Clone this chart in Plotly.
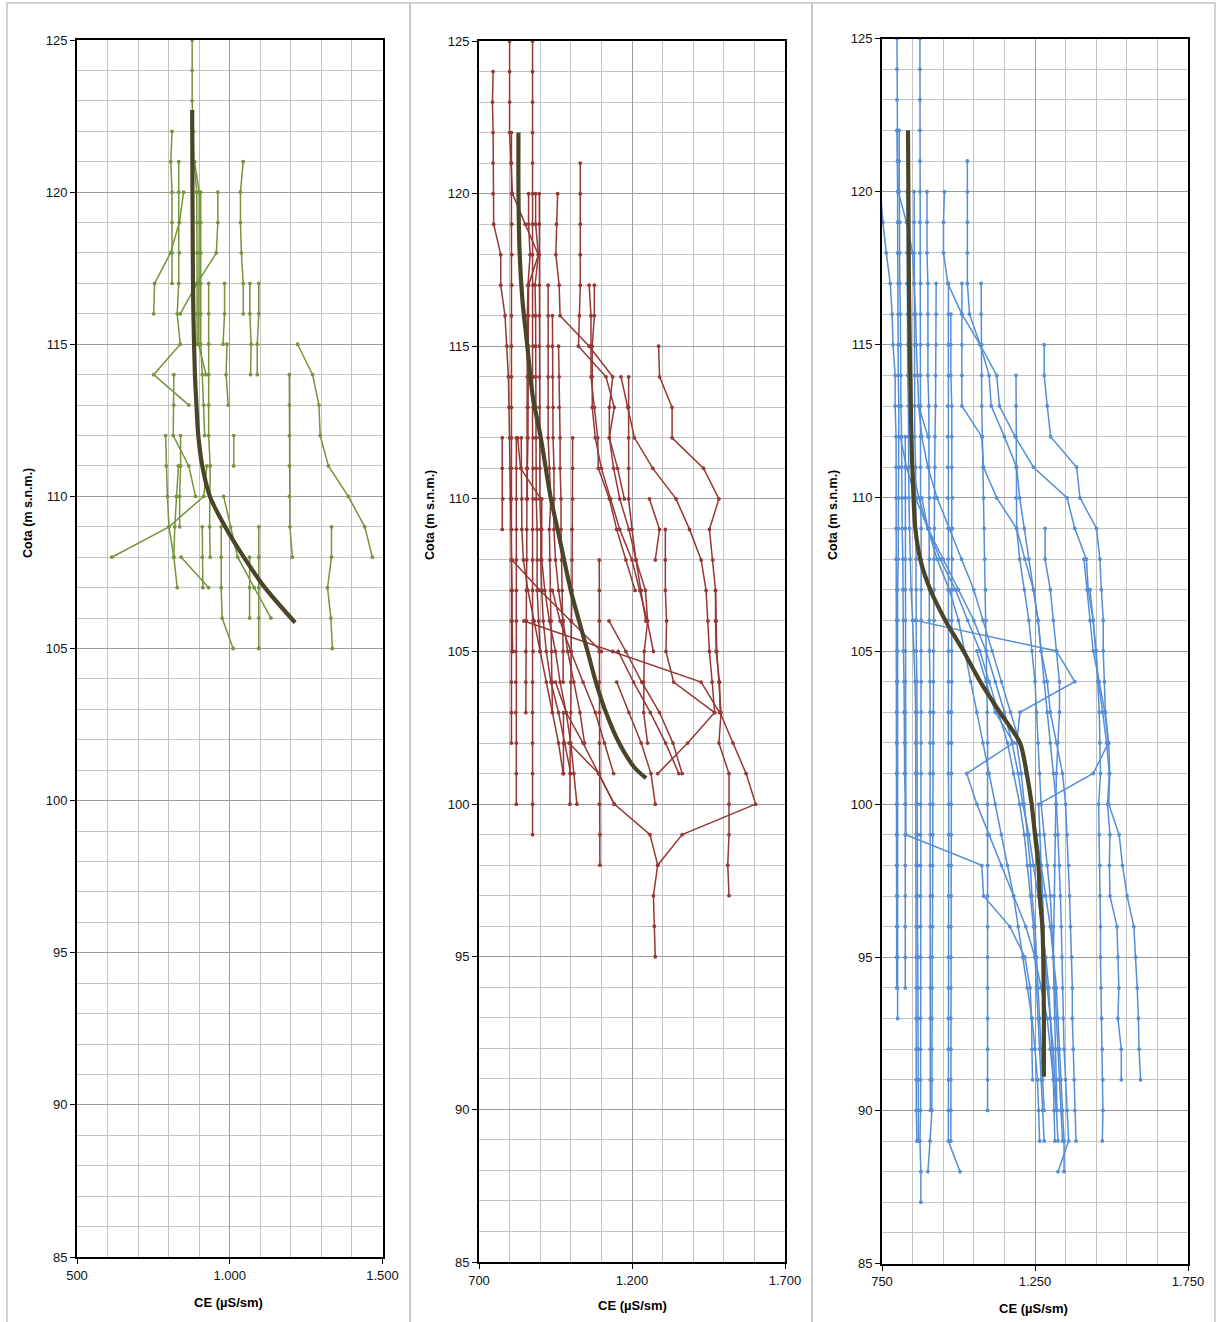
import plotly.graph_objects as go

W, H = 1217, 1322

# ---------------- Panel 1 (green) ----------------
P1_TOPS = [125, 122, 121, 120, 121, 120, 120, 121, 117, 117, 115, 117, 117, 115, 114,
           109, 109, 108, 110, 109, 112, 114, 112, 112, 111, 109, 108, 111]
P1_CE = [
    [877, 877, 877, 880, 883, 892, 893, 893, 893, 893, 893],
    [811, 807, 811, 811, 811, 811],
    [833, 833, 835, 835, 833, 828, 838, 751, 866],
    [849, 835, 806, 754, 751],
    [885, 900, 900, 900, 900, 900, 898, 922],
    [905, 905, 905, 905, 905, 905, 910, 915, 918],
    [961, 961, 956, 893, 838],
    [1044, 1035, 1035, 1038, 1044, 1044],
    [931, 931, 931, 931, 931, 931, 936, 934, 934, 936],
    [983, 983, 978],
    [991, 988, 995],
    [1066, 1066, 1070, 1068],
    [1095, 1095, 1090, 1090],
    [1222, 1271, 1292, 1296, 1323, 1388, 1442, 1467],
    [1195, 1195, 1195, 1195, 1195, 1197, 1205],
    [1333, 1333, 1320, 1331, 1336],
    [1095, 1095, 1095, 1095, 1095],
    [1065, 1065, 1065],
    [980, 1003, 1026, 1080, 1135],
    [972, 972, 972, 975, 1011],
    [1013, 1013],
    [817, 817, 815, 866, 888],
    [790, 792, 796, 801, 817, 828],
    [839, 839, 836, 836],
    [925, 915, 801, 614],
    [910, 910, 912],
    [841, 931],
    [832, 825, 820, 817],
]
P1_MEAN_Z = [122.7, 120, 118, 116, 114, 113, 112, 111, 110, 109, 108, 107, 105.85]
P1_MEAN_CE = [877, 878, 879, 881, 886, 891, 897, 910, 935, 985, 1046, 1115, 1214]

# ---------------- Panel 2 (red) ----------------
P2_TOPS = [124, 125, 125, 122, 120, 120, 120, 120, 121, 117, 117, 115, 114, 107, 114,
           110, 112, 112, 112, 117, 112, 108, 103, 102, 104, 107, 106, 108, 109, 105,
           106, 104, 116, 112, 110, 115]
P2_CE = [
    [746, 744, 746, 746, 746, 748, 771, 771, 785, 791, 796, 798, 800, 802, 804, 806, 806, 808, 808, 810],
    [800, 800, 800, 800, 805, 809, 851, 894, 862, 862, 862, 862, 860, 860, 858, 858],
    [875, 875, 875, 875, 875, 875, 875, 875, 877, 877, 877, 877, 877, 877, 877, 877, 875, 875, 875, 877,
     877, 875, 875, 875, 875, 875, 875],
    [806, 806, 807, 807, 807, 807, 806, 806, 806, 806, 806, 806, 806, 806, 806, 806, 806, 808, 806, 806, 806],
    [862, 862, 867, 860, 858, 858, 858, 858, 858, 856, 856, 856, 856, 855, 855, 853, 853, 853],
    [885, 885, 894, 883, 885, 885, 885, 885, 887, 887, 887, 890, 890, 890, 895, 900],
    [897, 897, 897, 897, 897, 897, 897, 897, 899, 899, 899, 902, 902, 905, 910, 920, 935, 960, 980, 1000],
    [957, 953, 951, 962, 965, 1060, 1137, 1126, 1126, 1153, 1175],
    [1031, 1031, 1031, 1031, 1031, 1028, 1025, 1115, 1142, 1126, 1140, 1160, 1190, 1213, 1230, 1245],
    [1060, 1066, 1066, 1066, 1077, 1088, 1090, 1126, 1150, 1180, 1210],
    [1077, 1077, 1070, 1070, 1070, 1080, 1100, 1130, 1160, 1200, 1226, 1250, 1270],
    [1287, 1290, 1331, 1331, 1434, 1484, 1453, 1464, 1473, 1473, 1475, 1486, 1488, 1530, 1573, 1604,
     1364, 1284, 1270, 1273, 1276],
    [1164, 1186, 1208, 1268, 1344, 1388, 1426, 1442, 1448, 1453, 1462, 1470, 1382, 1284],
    [1473, 1475, 1477, 1484, 1491, 1484, 1517, 1517, 1517, 1513, 1517],
    [1189, 1189, 1189, 1189, 1189, 1200, 1213, 1244, 1251, 1240, 1238, 1238, 1251],
    [1257, 1290, 1276],
    [776, 776, 778, 776],
    [826, 836, 902],
    [1006, 1006, 1006, 1004, 1004, 1004, 1002, 1002, 1000, 1000, 998, 998, 997],
    [926, 926, 926, 926, 926, 926, 930, 935, 930, 932, 934, 936, 938, 940, 940],
    [822, 822, 822, 822, 822, 822, 822, 820, 820, 820, 822, 822, 822],
    [1093, 1093, 1093, 1093, 1093, 1093, 1093, 1093, 1093, 1095, 1095],
    [976, 976, 976],
    [994, 1091, 1142, 1259, 1284],
    [950, 985, 1040, 1091, 1142],
    [940, 965, 1000, 1040, 1080, 1110, 1140],
    [847, 1137, 1426, 1486],
    [808, 900, 1000, 1100],
    [1309, 1309, 1309, 1313, 1311, 1336, 1470],
    [1155, 1205, 1260, 1310, 1353],
    [1125, 1180, 1232, 1290, 1334, 1364],
    [1150, 1190, 1230, 1262, 1276],
    [940, 940, 940, 942, 942, 945, 945, 945, 950, 960, 975, 990, 1010, 1030, 1045],
    [838, 838, 840, 840, 845, 860, 880, 900, 920, 940, 960, 975],
    [905, 905, 905, 915, 930, 950, 965, 985, 1000, 1010, 1020],
    [960, 962, 962, 965, 965, 968, 968, 970, 972, 975, 975, 975],
]
P2_MEAN_Z = [122, 120, 118, 116.5, 115, 113.4, 112, 110, 109, 108, 107, 106, 105, 104, 103, 102, 101.2, 100.85]
P2_MEAN_CE = [829, 829, 833, 842, 858, 875, 902, 935, 957, 978, 1000, 1027, 1055, 1082, 1115, 1158, 1208, 1246]

# ---------------- Panel 3 (blue) ----------------
P3_TOPS = [122, 122, 125, 120, 120, 117, 117, 116, 117, 120, 120,
           120, 115, 121, 114, 109, 106, 112, 108, 105, 117, 112, 111, 113, 110, 107, 125]
P3_CE = [
    [799, 801, 801, 801, 801, 803, 803, 803, 803, 805, 805, 805, 805, 803, 803, 801, 801, 801, 801, 799,
     799, 799, 799, 799, 799, 801, 801, 801, 801, 801],
    [806, 806, 806, 808, 808, 808, 810, 810, 812, 812, 814, 814, 816, 816, 818, 818, 820, 820, 822, 822,
     824, 824, 826, 826, 826, 826, 826, 826, 826],
    [874, 874, 874, 874, 874, 874, 874, 874, 876, 876, 876, 876, 876, 876, 876, 876, 878, 878, 878, 878,
     878, 878, 878, 878, 878, 876, 876, 876, 876, 876, 876, 876, 876, 876, 876, 876, 874, 877, 877],
    [832, 832, 832, 832, 834, 834, 834, 836, 836, 838, 838, 840, 842, 845, 850, 855, 858, 860, 860, 860,
     862, 862, 862, 862, 862, 862, 862, 862, 862, 862, 862, 864],
    [855, 855, 855, 855, 855, 857, 857, 857, 857, 860, 860, 860, 862, 862, 862, 862, 864, 864, 864, 864,
     866, 866, 866, 866, 866, 867, 867, 867, 868, 868, 869, 869],
    [927, 927, 927, 925, 925, 923, 923, 921, 921, 920, 920, 920, 918, 918, 918, 917, 917, 916, 916, 915,
     915, 915, 914, 914, 913, 913, 913, 913, 907, 900],
    [967, 967, 967, 967, 965, 965, 965, 965, 966, 966, 966, 966, 967, 967, 967, 967, 967, 968, 968, 968,
     968, 968, 967, 967, 967, 967, 967, 967, 967, 1005],
    [975, 975, 975, 978, 978, 978, 980, 980, 980, 980, 978, 978, 978, 977, 977, 977, 976, 976, 976, 976,
     975, 975, 975, 975, 975, 975, 975, 975],
    [1074, 1074, 1076, 1076, 1076, 1078, 1080, 1082, 1084, 1086, 1088, 1090, 1092, 1093, 1094, 1095, 1095,
     1095, 1095, 1095, 1095, 1095, 1095, 1095, 1095, 1095, 1095, 1095],
    [745, 753, 764, 777, 783, 786, 793, 793, 796, 796, 796, 796, 796, 798, 798, 798, 798, 798, 798, 798,
     798, 798, 798, 798, 798, 798, 798],
    [897, 897, 897, 900, 900, 900, 900, 903, 903, 903, 905, 905, 905, 905, 905, 905, 907, 907, 907, 907,
     907, 908, 908, 908, 908, 908, 908, 908, 908, 908, 908],
    [954, 951, 951, 965, 1011, 1071, 1125, 1134, 1185, 1245, 1355, 1380, 1418, 1424, 1440, 1449, 1457,
     1471, 1484, 1493, 1487, 1495, 1493, 1495, 1518, 1521, 1524, 1521, 1532, 1532],
    [1280, 1280, 1290, 1301, 1386, 1397, 1451, 1462, 1467, 1473, 1473, 1477, 1480, 1491, 1494, 1491,
     1525, 1536, 1551, 1573, 1579, 1584, 1588, 1590, 1595],
    [1029, 1029, 1029, 1029, 1029, 1036, 1071, 1100, 1107, 1150, 1190, 1200, 1215, 1230, 1245, 1260,
     1270, 1290, 1300, 1320, 1340, 1350, 1355, 1360, 1363, 1366, 1370, 1372, 1372, 1375, 1378, 1380, 1384],
    [1188, 1188, 1188, 1188, 1188, 1190, 1217, 1245, 1260, 1270, 1280, 1290, 1300, 1310, 1320, 1325,
     1330, 1333, 1336, 1338, 1340, 1342, 1345, 1350, 1355, 1360, 1325],
    [1283, 1283, 1300, 1310, 1320, 1330, 1330, 1325, 1320, 1318, 1316, 1314, 1312, 1310, 1310, 1312,
     1315, 1318, 1320, 1322],
    [858, 1320, 1380, 1201, 1190, 1205, 1215, 1225, 1235, 1240, 1250, 1255, 1260, 1265, 1270, 1275, 1280],
    [826, 826, 826, 826, 826, 826, 826, 826, 826, 826, 826, 826, 826, 828, 1076, 1082, 1168, 1217, 1234,
     1239, 1240, 1242],
    [1410, 1420, 1430, 1440, 1460, 1478, 1490, 1440, 1262, 1265, 1270, 1275, 1278, 1282, 1290, 1300,
     1310, 1315, 1320],
    [1060, 1090, 1120, 1180, 1027, 1060, 1100, 1140, 1180, 1220, 1250, 1270, 1290, 1300, 1310, 1320, 1325],
    [1011, 1011, 1011, 1011, 1011, 1076, 1082, 1125, 1190, 1200, 1215, 1230, 1240, 1250, 1255, 1260,
     1265, 1270, 1280, 1290, 1300, 1305, 1310, 1315, 1320, 1325, 1330, 1335, 1340],
    [810, 830, 860, 900, 940, 990, 1030, 1070, 1100, 1130, 1160, 1180, 1200, 1215, 1225, 1235, 1245,
     1250, 1255, 1260, 1265, 1270, 1275, 1280],
    [850, 870, 900, 950, 1000, 1050, 1090, 1120, 1150, 1175, 1195, 1210, 1230, 1245, 1260, 1272, 1285,
     1295, 1300, 1305, 1310, 1312, 1315],
    [870, 880, 900, 930, 970, 1010, 1050, 1080, 1110, 1140, 1170, 1200, 1220, 1240, 1255, 1270, 1285,
     1300, 1310, 1320, 1325, 1330, 1335, 1340, 1345, 1345],
    [880, 900, 930, 970, 1000, 1020, 1040, 1060, 1080, 1100, 1120, 1140, 1160, 1180, 1195, 1210, 1225,
     1240, 1250, 1258, 1262, 1265],
    [1430, 1440, 1450, 1455, 1460, 1462, 1464, 1458, 1460, 1462, 1462, 1464, 1464, 1466, 1468, 1470,
     1472, 1472, 1470],
    [799, 799, 799, 799, 801, 803, 830, 850, 855, 860, 862, 865, 870, 900],
]
P3_MEAN_Z = [122, 117, 112, 110, 109, 108, 107, 106, 105, 104, 103, 102, 101, 100, 99, 98, 97, 96, 95, 93, 91.1]
P3_MEAN_CE = [835, 838, 846, 853, 859, 875, 908, 957, 1016, 1071, 1135, 1201, 1223, 1239, 1250, 1261,
              1266, 1274, 1277, 1279, 1279]

# ---------------- styling ----------------
GREEN = "#77933C"
RED = "#953735"
BLUE = "#558ED5"
MEAN_COLOR = "#4A4529"
FONT = "Liberation Sans, Arial, sans-serif"

panels = [
    dict(tops=P1_TOPS, ce=P1_CE, mz=P1_MEAN_Z, mv=P1_MEAN_CE, color=GREEN,
         xr=[500, 1500], px=(77, 382.5), py=(40, 1257),
         ytitle=(28, 513), xtitle=(229, 1302), frame=(7, 410)),
    dict(tops=P2_TOPS, ce=P2_CE, mz=P2_MEAN_Z, mv=P2_MEAN_CE, color=RED,
         xr=[700, 1700], px=(479, 785), py=(41, 1262),
         ytitle=(430, 515), xtitle=(632, 1305), frame=(410, 812)),
    dict(tops=P3_TOPS, ce=P3_CE, mz=P3_MEAN_Z, mv=P3_MEAN_CE, color=BLUE,
         xr=[750, 1750], px=(882, 1188), py=(38.5, 1263.5),
         ytitle=(833, 515), xtitle=(1033, 1308), frame=(812, 1215)),
]

fig = go.Figure()
layout_axes = {}
annotations = []
shapes = []

for i, p in enumerate(panels):
    n = "" if i == 0 else str(i + 1)
    xa, ya = "x" + n, "y" + n
    for top, vals in zip(p["tops"], p["ce"]):
        z = [top - k for k in range(len(vals))]
        fig.add_trace(go.Scatter(
            x=vals, y=z, mode="lines+markers", xaxis=xa, yaxis=ya,
            line=dict(color=p["color"], width=1.5),
            marker=dict(color=p["color"], size=3.8),
            showlegend=False, hoverinfo="skip"))
    fig.add_trace(go.Scatter(
        x=p["mv"], y=p["mz"], mode="lines", xaxis=xa, yaxis=ya,
        line=dict(color=MEAN_COLOR, width=4.2, shape="spline", smoothing=0.8),
        showlegend=False, hoverinfo="skip"))

    x0, x1 = p["px"]
    y0, y1 = p["py"]
    layout_axes["xaxis" + n] = dict(
        domain=[x0 / W, x1 / W], anchor=ya, range=p["xr"], automargin=False,
        tick0=p["xr"][0], dtick=500, tickformat=",d",
        showgrid=True, gridcolor="#9C9C9C", gridwidth=1,
        minor=dict(tick0=p["xr"][0], dtick=100, showgrid=True, gridcolor="#C4C4C4", gridwidth=1),
        showline=True, linecolor="black", linewidth=2, mirror=True,
        ticks="outside", ticklen=5, tickcolor="black", tickwidth=1.3,
        zeroline=False, fixedrange=True,
        tickfont=dict(family=FONT, size=13, color="#111111"))
    layout_axes["yaxis" + n] = dict(
        domain=[1 - y1 / H, 1 - y0 / H], anchor=xa, range=[85, 125], automargin=False,
        tick0=85, dtick=5,
        showgrid=True, gridcolor="#9C9C9C", gridwidth=1,
        minor=dict(tick0=85, dtick=1, showgrid=True, gridcolor="#C4C4C4", gridwidth=1),
        showline=True, linecolor="black", linewidth=2, mirror=True,
        ticks="outside", ticklen=5, tickcolor="black", tickwidth=1.3,
        zeroline=False, fixedrange=True,
        tickfont=dict(family=FONT, size=13, color="#111111"))

    tx, ty = p["ytitle"]
    annotations.append(dict(text="<b>Cota (m s.n.m.)</b>", x=tx / W, y=1 - ty / H, xref="paper", yref="paper",
                            textangle=-90, showarrow=False, xanchor="center", yanchor="middle",
                            font=dict(family=FONT, size=12.5, color="black")))
    tx, ty = p["xtitle"]
    annotations.append(dict(text="<b>CE (µS/sm)</b>", x=tx / W, y=1 - ty / H, xref="paper", yref="paper",
                            showarrow=False, xanchor="center", yanchor="middle",
                            font=dict(family=FONT, size=13, color="black")))
    fx0, fx1 = p["frame"]
    shapes.append(dict(type="rect", xref="paper", yref="paper", x0=fx0 / W, x1=fx1 / W,
                       y0=-0.01, y1=1 - 3 / H, line=dict(color="#C4C4C4", width=1.5),
                       fillcolor="rgba(0,0,0,0)", layer="below"))

fig.update_layout(
    width=W, height=H, margin=dict(l=0, r=0, t=0, b=0, pad=0, autoexpand=False),
    paper_bgcolor="white", plot_bgcolor="white",
    separators=",.", showlegend=False,
    annotations=annotations, shapes=shapes,
    **layout_axes)

fig.write_html(
    "out.html",
    config={"responsive": False, "displayModeBar": False},
    post_script="document.body.style.margin='0';document.body.style.padding='0';"
                "document.documentElement.style.overflow='hidden';document.body.style.overflow='hidden';")
